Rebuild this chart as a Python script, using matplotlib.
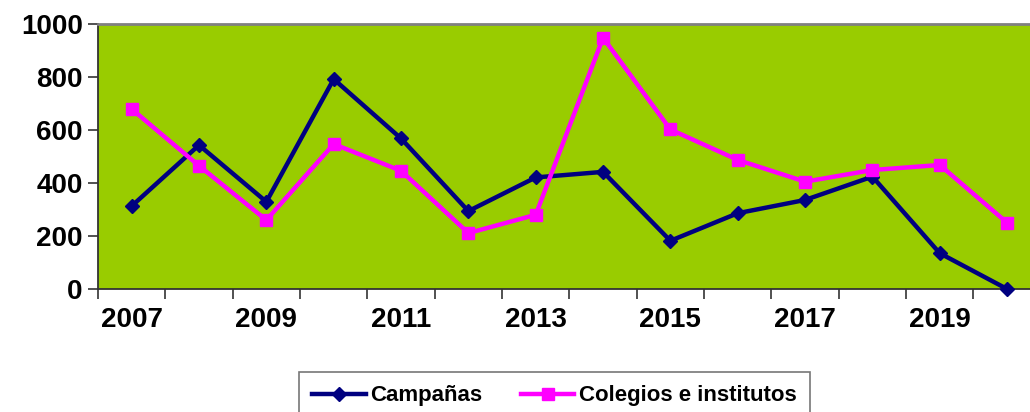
import numpy as np
import matplotlib
matplotlib.use("Agg")
import matplotlib.pyplot as plt

years = [2007, 2008, 2009, 2010, 2011, 2012, 2013, 2014, 2015, 2016, 2017, 2018, 2019, 2020]
campanas = [313, 543, 329, 792, 568, 294, 421, 442, 182, 286, 336, 424, 135, 0]
colegios = [679, 465, 260, 547, 446, 211, 280, 948, 602, 487, 405, 449, 468, 250]

plt.rcParams['font.family'] = ['Liberation Sans', 'DejaVu Sans']
plt.rcParams['font.weight'] = 'bold'

fig = plt.figure(figsize=(10.30, 4.12), dpi=100)
ax = fig.add_axes([98 / 1030, 1 - 289 / 412, 1 - 98 / 1030, 265 / 412])
ax.set_facecolor('#99CC00')

x = np.arange(len(years))
ax.plot(x, campanas, color='#000080', lw=3.2, marker='D', ms=7, label='Campañas', clip_on=False, zorder=3)
ax.plot(x, colegios, color='#FF00FF', lw=3.2, marker='s', ms=9, label='Colegios e institutos', clip_on=False, zorder=3)

ax.set_ylim(0, 1000)
ax.set_yticks(range(0, 1001, 200))
ax.set_xlim(-0.5, 13.34)

# category axis: ticks between categories, labels on every other year
ax.set_xticks(np.arange(-0.5, 13.5, 1.0))
ax.set_xticklabels([])
ax.set_xticks(x[::2], minor=True)
ax.set_xticklabels([str(y) for y in years[::2]], minor=True)
ax.tick_params(axis='x', which='minor', length=0, pad=13, labelsize=20)
ax.tick_params(axis='x', which='major', length=7, width=1.2, color='#333333', direction='out')
ax.tick_params(axis='y', length=7, width=1.2, color='#333333', labelsize=20, pad=4)

for s in ['left', 'bottom']:
    ax.spines[s].set_color('#333333')
    ax.spines[s].set_linewidth(1.3)
ax.spines['top'].set_color('#808080')
ax.spines['top'].set_linewidth(2)
ax.spines['right'].set_visible(False)

leg = fig.legend(loc='upper left', bbox_to_anchor=(299 / 1030, 0, 511 / 1030, 1 - 372 / 412),
                 ncol=2, mode='expand', fontsize=16, frameon=True, fancybox=False,
                 handlelength=2.4, handletextpad=0.2, columnspacing=1.2, borderaxespad=0,
                 borderpad=0.6)
leg.get_frame().set_edgecolor('#555555')
leg.get_frame().set_linewidth(1.2)

fig.savefig('out.png', dpi=100)
